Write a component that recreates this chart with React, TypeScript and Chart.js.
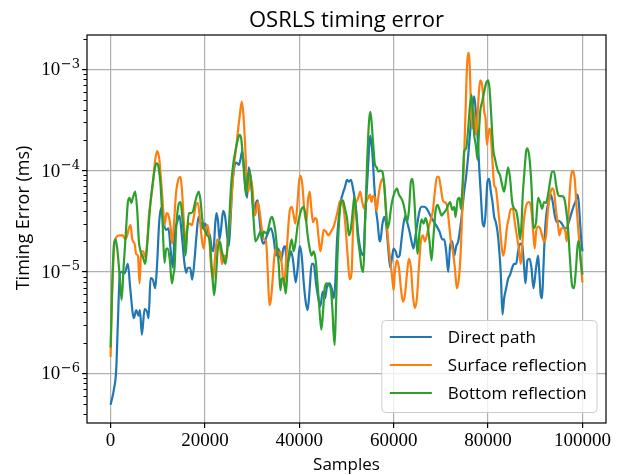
import React, { useEffect, useRef } from 'react';
import { Chart, registerables } from 'chart.js';

Chart.register(...registerables);

const TITLE = 'OSRLS timing error';
const X_LABEL = 'Samples';
const Y_LABEL = 'Timing Error (ms)';
const SERIES_LABELS = ['Direct path', 'Surface reflection', 'Bottom reflection'];
const SERIES_COLORS = ['#1f77b4', '#ff7f0e', '#2ca02c'];
const X_TICKS = [0, 20000, 40000, 60000, 80000, 100000];
const Y_TICK_EXPONENTS = [-6, -5, -4, -3];
const X_MIN = -5000;
const X_MAX = 105000;
const Y_MIN = 3.23e-7;
const Y_MAX = 2.18e-3;

const directX = [
  0, 700, 1200, 1550, 1980, 2400, 2960, 3670, 4160, 4940, 5430, 5930, 6210, 6630, 7200, 7760, 8050, 8470, 8960, 9460,
  9880, 10300, 10730, 11220, 11780, 12280, 12700, 13200, 13550, 14110, 14610, 15100, 15670, 16020, 16370, 16870, 17290,
  17780, 18210, 18630, 19050, 19550, 20040, 20600, 21030, 21450, 21800, 22160, 22440, 22790, 23080, 23430, 23850, 24280,
  24700, 25050, 25400, 25760, 26250, 26680, 27170, 27520, 27880, 28230, 28580, 28930, 29290, 29640, 29990, 30340, 30700,
  31190, 31620, 32040, 32460, 33160, 34010, 34580, 35070, 35560, 36130, 36620, 36980, 37400, 37890, 38250, 38670, 39230,
  39660, 40080, 40500, 40930, 41350, 41770, 42200, 42620, 43040, 43540, 44030, 44460, 44950, 45440, 45870, 46360, 46860,
  47280, 47630, 47980, 48410, 48830, 49250, 49680, 50100, 50520, 50950, 51370, 51650, 52000, 52500, 53060, 53630, 53910,
  54470, 55040, 55460, 55880, 56240, 56590, 56940, 57150, 57580, 58000, 58420, 58850, 59270, 59700, 59980, 60400, 60820,
  61250, 61670, 62090, 62520, 62940, 63360, 63790, 64210, 64640, 65060, 65480, 65910, 66470, 67030, 67530, 68020, 68590,
  69150, 69720, 70280, 70710, 71130, 71560, 71980, 72400, 72830, 73250, 73670, 74100, 74520, 74940, 75370, 75790, 76210,
  76640, 77060, 77410, 77770, 78120, 78470, 78830, 79180, 79530, 79880, 80240, 80590, 80940, 81300, 81650, 82000, 82350,
  82710, 83060, 83410, 83840, 84260, 84680, 85110, 85530, 85950, 86380, 86800, 87220, 87650, 87930, 88350, 88780, 89200,
  89620, 90180, 90610, 90890, 91170, 91450, 91740, 92020, 92440, 92870, 93290, 93710, 94140, 94560, 94980, 95410, 95830,
  96250, 96680, 97100, 97520, 98090, 98510, 98930, 99220, 99500, 99780, 100000,
];
const directY = [
  4.9e-7, 6.9e-7, 1.1e-6, 3.2e-6, 9.8e-6, 1.0e-5, 9.7e-6, 1.2e-5, 6.9e-6, 3.5e-6, 4.2e-6, 3.7e-6, 4.2e-6, 2.4e-6, 4.3e-6,
  4.0e-6, 3.5e-6, 8.7e-6, 8.4e-6, 6.9e-6, 1.26e-5, 3.1e-5, 4.3e-5, 3.1e-5, 2.6e-5, 2.7e-5, 1.7e-5, 1.1e-5, 2.3e-5, 3.1e-5,
  3.6e-5, 2.3e-5, 1.2e-5, 9.8e-6, 1.1e-5, 1.1e-5, 8.4e-6, 1.3e-5, 2.3e-5, 3.5e-5, 3.1e-5, 2.7e-5, 3.0e-5, 2.5e-5, 2.3e-5,
  1.7e-5, 1.6e-5, 2.9e-5, 3.8e-5, 3.1e-5, 2.1e-5, 2.7e-5, 4.0e-5, 3.5e-5, 2.3e-5, 1.8e-5, 3.1e-5, 6.7e-5, 1.1e-4, 1.2e-4,
  1.14e-4, 1.28e-4, 1.56e-4, 1.14e-4, 6.7e-5, 5.4e-5, 1.08e-4, 8.9e-5, 6.2e-5, 3.6e-5, 4.6e-5, 5.1e-5, 3.1e-5, 2.1e-5,
  1.9e-5, 2.3e-5, 2.7e-5, 2.1e-5, 1.45e-5, 1.7e-5, 1.3e-5, 1.7e-5, 1.8e-5, 1.2e-5, 1.4e-5, 1.6e-5, 1.3e-5, 7.9e-6, 1.1e-5,
  1.8e-5, 1.45e-5, 7.9e-6, 5.1e-6, 4.2e-6, 6.9e-6, 1.2e-5, 1.2e-5, 7.7e-6, 5.5e-6, 4.6e-6, 6.4e-6, 5.5e-6, 7.2e-6, 7.7e-6,
  6.9e-6, 5.5e-6, 7.9e-6, 2.0e-5, 3.6e-5, 5.1e-5, 6.0e-5, 6.9e-5, 8.1e-5, 7.8e-5, 8.1e-5, 6.7e-5, 5.6e-5, 4.2e-5, 2.3e-5,
  1.6e-5, 1.45e-5, 3.1e-5, 8.9e-5, 2.2e-4, 1.55e-4, 7.2e-5, 4.2e-5, 3.1e-5, 2.1e-5, 2.0e-5, 2.9e-5, 3.5e-5, 2.9e-5, 1.7e-5,
  1.1e-5, 1.45e-5, 1.7e-5, 1.6e-5, 1.4e-5, 1.45e-5, 2.1e-5, 3.0e-5, 3.6e-5, 3.0e-5, 2.5e-5, 2.0e-5, 1.7e-5, 2.3e-5, 3.1e-5,
  4.0e-5, 4.4e-5, 4.4e-5, 4.2e-5, 3.8e-5, 3.4e-5, 3.1e-5, 2.8e-5, 2.5e-5, 2.1e-5, 2.1e-5, 1.6e-5, 1.0e-5, 1.85e-5, 2.0e-5,
  1.45e-5, 1.8e-5, 2.0e-5, 2.7e-5, 4.0e-5, 6.2e-5, 8.9e-5, 1.4e-4, 2.4e-4, 4.1e-4, 5.4e-4, 3.8e-4, 2.25e-4, 1.08e-4, 5.8e-5,
  3.1e-5, 2.8e-5, 4.2e-5, 7.8e-5, 8.3e-5, 6.2e-5, 4.9e-5, 3.5e-5, 3.1e-5, 2.5e-5, 1.7e-5, 9.4e-6, 3.8e-6, 5.5e-6, 6.9e-6,
  8.6e-6, 9.4e-6, 1.1e-5, 1.2e-5, 1.2e-5, 1.6e-5, 1.9e-5, 1.85e-5, 1.1e-5, 7.7e-6, 1.3e-5, 1.35e-5, 1.1e-5, 6.9e-6, 1.1e-5,
  1.45e-5, 9.4e-6, 5.9e-6, 5.5e-6, 1.1e-5, 2.3e-5, 4.0e-5, 4.9e-5, 5.8e-5, 4.9e-5, 3.6e-5, 3.1e-5, 3.2e-5, 3.1e-5, 2.9e-5,
  2.7e-5, 2.7e-5, 3.1e-5, 3.6e-5, 4.4e-5, 4.9e-5, 5.8e-5, 4.9e-5, 3.1e-5, 2.0e-5, 1.6e-5,
];

const surfaceX = [
  0, 280, 700, 1200, 1900, 2610, 3100, 3530, 3880, 4240, 4590, 5080, 5430, 5790, 6140, 6490, 6920, 7340, 7760, 8120, 8470,
  8960, 9460, 9880, 10300, 10730, 11080, 11430, 11860, 12280, 12700, 13060, 13410, 13900, 14400, 14820, 15100, 15530,
  15880, 16230, 16720, 17220, 17640, 18070, 18490, 18910, 19340, 19760, 20110, 20600, 20960, 21310, 21740, 22160, 22580,
  22940, 23290, 23640, 24140, 24560, 24840, 25260, 25690, 26110, 26600, 26960, 27380, 27800, 28160, 28510, 28860, 29220,
  29640, 30130, 30480, 30840, 31190, 31620, 32040, 32460, 32950, 33310, 33660, 34010, 34360, 34720, 35140, 35560, 35990,
  36340, 36690, 37120, 37540, 37960, 38390, 38810, 39160, 39520, 39940, 40290, 40650, 41070, 41490, 41840, 42200, 42550,
  42900, 43330, 43680, 44030, 44460, 44810, 45160, 45660, 46150, 46710, 47280, 47700, 48130, 48550, 48970, 49400, 49820,
  50240, 50670, 51090, 51370, 51650, 52070, 52500, 52920, 53340, 53770, 54190, 54610, 54970, 55320, 55600, 56030, 56380,
  56730, 57150, 57580, 58000, 58420, 58850, 59270, 59620, 59980, 60260, 60680, 61110, 61530, 61950, 62380, 62800, 63220,
  63650, 64070, 64490, 64920, 65340, 65760, 66190, 66610, 67030, 67460, 67880, 68300, 68730, 69150, 69570, 70000, 70420,
  70710, 71270, 71700, 72120, 72540, 72970, 73390, 73810, 74240, 74590, 74940, 75230, 75510, 75790, 76070, 76360, 76640,
  76920, 77200, 77480, 77770, 78050, 78330, 78610, 78900, 79180, 79460, 79740, 80030, 80310, 80590, 80940, 81300, 81650,
  82000, 82420, 82850, 83200, 83550, 83980, 84400, 84820, 85250, 85670, 86090, 86520, 86940, 87220, 87500, 87930, 88350,
  88780, 89200, 89620, 89900, 90180, 90610, 91030, 91450, 91880, 92300, 92720, 93150, 93570, 93990, 94420, 94840, 95120,
  95550, 95970, 96390, 96680, 97100, 97520, 97950, 98370, 98790, 99220, 99640, 100000,
];
const surfaceY = [
  1.45e-6, 5.1e-6, 1.6e-5, 2.2e-5, 2.3e-5, 2.3e-5, 2.1e-5, 2.3e-5, 2.7e-5, 2.9e-5, 2.1e-5, 1.9e-5, 1.5e-5, 1.45e-5, 7.7e-6,
  1.6e-5, 1.6e-5, 1.4e-5, 2.0e-5, 3.6e-5, 4.9e-5, 7.4e-5, 1.28e-4, 1.56e-4, 1.33e-4, 7.8e-5, 4.6e-5, 2.9e-5, 3.8e-5, 3.6e-5,
  2.8e-5, 1.9e-5, 2.9e-5, 6.2e-5, 8.3e-5, 8.7e-5, 6.7e-5, 3.1e-5, 1.7e-5, 2.7e-5, 3.0e-5, 2.9e-5, 3.5e-5, 4.6e-5, 4.8e-5,
  3.4e-5, 2.1e-5, 1.7e-5, 2.5e-5, 2.9e-5, 2.0e-5, 1.1e-5, 8.5e-6, 1.45e-5, 2.1e-5, 2.0e-5, 1.6e-5, 1.2e-5, 1.45e-5, 1.35e-5,
  2.1e-5, 3.1e-5, 5.8e-5, 1.08e-4, 1.66e-4, 2.4e-4, 3.5e-4, 4.8e-4, 3.5e-4, 1.8e-4, 7.8e-5, 6.2e-5, 8.9e-5, 6.2e-5, 3.6e-5,
  3.9e-5, 4.9e-5, 3.9e-5, 2.7e-5, 2.1e-5, 2.0e-5, 1.0e-5, 4.7e-6, 5.5e-6, 8.6e-6, 1.45e-5, 1.7e-5, 1.45e-5, 1.6e-5, 1.1e-5,
  7.4e-6, 1.1e-5, 2.3e-5, 4.0e-5, 4.4e-5, 3.6e-5, 3.0e-5, 4.2e-5, 7.8e-5, 8.9e-5, 7.2e-5, 4.0e-5, 3.1e-5, 5.1e-5, 6.2e-5,
  4.2e-5, 3.1e-5, 3.4e-5, 3.3e-5, 2.3e-5, 1.6e-5, 2.0e-5, 2.6e-5, 2.5e-5, 2.3e-5, 2.5e-5, 2.8e-5, 3.3e-5, 4.0e-5, 4.9e-5,
  5.1e-5, 4.2e-5, 2.7e-5, 1.45e-5, 8.5e-6, 1.0e-5, 2.5e-5, 4.5e-5, 4.9e-5, 5.4e-5, 6.2e-5, 4.9e-5, 4.2e-5, 4.9e-5, 5.4e-5,
  5.8e-5, 4.9e-5, 5.6e-5, 5.4e-5, 4.0e-5, 5.4e-5, 7.2e-5, 8.3e-5, 7.2e-5, 3.6e-5, 2.0e-5, 1.3e-5, 9.4e-6, 6.6e-6, 1.0e-5,
  1.3e-5, 1.1e-5, 6.9e-6, 5.1e-6, 5.9e-6, 9.4e-6, 1.35e-5, 1.1e-5, 5.9e-6, 4.4e-6, 5.5e-6, 1.1e-5, 2.0e-5, 2.3e-5, 2.0e-5,
  2.3e-5, 2.8e-5, 3.3e-5, 4.0e-5, 6.2e-5, 8.7e-5, 8.7e-5, 6.7e-5, 5.1e-5, 4.9e-5, 4.6e-5, 3.1e-5, 2.0e-5, 1.6e-5, 1.1e-5,
  6.9e-6, 8.6e-6, 1.7e-5, 4.9e-5, 1.4e-4, 3.8e-4, 1.0e-3, 1.45e-3, 1.2e-3, 4.8e-4, 2.6e-4, 4.1e-4, 3.0e-4, 2.25e-4, 3.5e-4,
  5.8e-4, 7.8e-4, 7.5e-4, 6.0e-4, 3.8e-4, 3.3e-4, 1.8e-4, 2.25e-4, 2.6e-4, 2.25e-4, 1.22e-4, 7.2e-5, 6.7e-5, 4.9e-5, 3.1e-5,
  1.85e-5, 1.45e-5, 1.7e-5, 2.7e-5, 3.4e-5, 4.2e-5, 4.2e-5, 3.1e-5, 2.3e-5, 1.7e-5, 1.2e-5, 1.7e-5, 2.9e-5, 4.2e-5, 4.8e-5,
  4.9e-5, 4.0e-5, 2.3e-5, 1.7e-5, 2.5e-5, 2.8e-5, 2.7e-5, 2.3e-5, 2.0e-5, 2.3e-5, 4.2e-5, 5.8e-5, 6.7e-5, 6.2e-5, 4.0e-5,
  2.9e-5, 2.3e-5, 2.7e-5, 2.7e-5, 2.5e-5, 2.0e-5, 4.2e-5, 8.3e-5, 1.0e-4, 8.3e-5, 4.2e-5, 2.3e-5, 1.3e-5, 7.9e-6,
];

const bottomX = [
  0, 350, 700, 1060, 1410, 1900, 2330, 2750, 3250, 3670, 4020, 4380, 4730, 5220, 5650, 6000, 6350, 6850, 7340, 7760, 8120,
  8470, 8960, 9460, 9810, 10160, 10590, 11010, 11430, 11780, 12140, 12560, 12990, 13340, 13550, 13900, 14400, 14820, 15170,
  15530, 15880, 16230, 16580, 17080, 17500, 17920, 18350, 18700, 19050, 19410, 19760, 20110, 20470, 20960, 21310, 21670,
  21950, 22300, 22720, 23150, 23570, 23990, 24350, 24700, 25120, 25550, 25970, 26390, 26820, 27310, 27660, 28020, 28370,
  28720, 29080, 29500, 29920, 30340, 30700, 31050, 31400, 31760, 32110, 32460, 33020, 33450, 33870, 34220, 34580, 34930,
  35280, 35630, 35990, 36270, 36690, 37120, 37540, 37960, 38390, 38810, 39230, 39660, 40080, 40500, 40930, 41350, 41770,
  42200, 42620, 43040, 43470, 43890, 44310, 44670, 45020, 45370, 45800, 46220, 46640, 47000, 47280, 47490, 47770, 48060,
  48410, 48830, 49250, 49680, 50100, 50520, 50950, 51370, 51650, 52000, 52360, 52780, 53200, 53560, 53910, 54330, 54760,
  55040, 55320, 55670, 56030, 56380, 56730, 57150, 57580, 58000, 58350, 58710, 59060, 59410, 59840, 60260, 60680, 61110,
  61530, 61950, 62380, 62800, 63220, 63650, 64000, 64350, 64780, 65060, 65480, 65910, 66330, 66750, 67180, 67600, 68020,
  68450, 68870, 69290, 69720, 70140, 70560, 71130, 71560, 71980, 72400, 72830, 73110, 73530, 73960, 74240, 74590, 74940,
  75370, 75790, 76210, 76500, 76780, 77060, 77410, 77770, 78050, 78330, 78760, 79180, 79600, 80030, 80310, 80590, 80870,
  81150, 81440, 81860, 82140, 82570, 82990, 83410, 83840, 84260, 84680, 85110, 85530, 85950, 86380, 86800, 87080, 87360,
  87650, 88070, 88350, 88780, 89200, 89620, 90180, 90610, 91030, 91450, 91880, 92300, 92720, 93150, 93570, 93990, 94420,
  94840, 95260, 95690, 96110, 96530, 96960, 97380, 97800, 98230, 98650, 99070, 99360, 99640, 100000,
];
const bottomY = [
  1.8e-6, 7.4e-6, 1.85e-5, 2.1e-5, 1.7e-5, 9.4e-6, 5.3e-6, 1.1e-5, 2.5e-5, 4.9e-5, 5.4e-5, 4.8e-5, 5.4e-5, 6.2e-5, 4.0e-5,
  2.0e-5, 1.6e-5, 1.4e-5, 1.2e-5, 1.85e-5, 3.1e-5, 4.9e-5, 7.8e-5, 1.1e-4, 1.18e-4, 1.08e-4, 7.2e-5, 3.1e-5, 1.23e-5, 1.7e-5,
  1.7e-5, 1.3e-5, 7.7e-6, 9.5e-6, 1.1e-5, 2.7e-5, 4.6e-5, 4.9e-5, 3.6e-5, 2.3e-5, 1.45e-5, 2.5e-5, 3.8e-5, 3.8e-5, 4.0e-5,
  4.9e-5, 5.8e-5, 6.2e-5, 5.1e-5, 3.4e-5, 2.7e-5, 2.5e-5, 2.3e-5, 2.1e-5, 1.35e-5, 7.9e-6, 5.9e-6, 8.6e-6, 1.7e-5, 2.0e-5,
  1.6e-5, 1.35e-5, 1.2e-5, 1.6e-5, 3.1e-5, 7.2e-5, 1.14e-4, 1.5e-4, 1.9e-4, 2.25e-4, 2.1e-4, 1.4e-4, 8.3e-5, 5.8e-5, 8.9e-5,
  9.8e-5, 6.2e-5, 3.1e-5, 2.0e-5, 2.1e-5, 2.3e-5, 2.5e-5, 2.2e-5, 2.5e-5, 2.4e-5, 2.7e-5, 3.3e-5, 3.5e-5, 3.1e-5, 2.5e-5,
  1.7e-5, 1.2e-5, 6.6e-6, 8.6e-6, 8.6e-6, 6.1e-6, 1.1e-5, 1.7e-5, 2.1e-5, 1.6e-5, 2.0e-5, 2.9e-5, 3.6e-5, 4.2e-5, 4.4e-5,
  3.5e-5, 2.3e-5, 1.7e-5, 1.45e-5, 1.6e-5, 1.3e-5, 7.4e-6, 4.0e-6, 2.7e-6, 4.0e-6, 6.9e-6, 7.7e-6, 7.4e-6, 6.9e-6, 4.4e-6,
  2.4e-6, 1.9e-6, 4.4e-6, 1.3e-5, 3.1e-5, 4.9e-5, 5.1e-5, 4.2e-5, 3.4e-5, 2.3e-5, 2.7e-5, 4.2e-5, 5.5e-5, 4.2e-5, 2.3e-5,
  1.6e-5, 1.1e-5, 1.0e-5, 2.7e-5, 1.08e-4, 3.0e-4, 3.8e-4, 3.0e-4, 1.8e-4, 1.14e-4, 1.08e-4, 9.8e-5, 1.0e-4, 9.8e-5, 7.2e-5,
  4.2e-5, 2.7e-5, 3.1e-5, 4.2e-5, 5.4e-5, 6.2e-5, 6.7e-5, 5.8e-5, 5.4e-5, 4.9e-5, 4.0e-5, 3.1e-5, 4.0e-5, 7.8e-5, 8.3e-5,
  5.4e-5, 2.3e-5, 1.5e-5, 2.5e-5, 3.3e-5, 3.0e-5, 3.4e-5, 2.9e-5, 2.0e-5, 1.3e-5, 2.3e-5, 4.0e-5, 4.6e-5, 4.1e-5, 3.6e-5,
  3.8e-5, 4.1e-5, 4.6e-5, 4.9e-5, 4.1e-5, 4.4e-5, 3.5e-5, 5.1e-5, 5.4e-5, 4.2e-5, 7.2e-5, 1.55e-4, 1.66e-4, 2.6e-4, 4.6e-4,
  5.6e-4, 3.8e-4, 2.25e-4, 1.8e-4, 1.28e-4, 2.25e-4, 3.8e-4, 4.8e-4, 6.0e-4, 7.3e-4, 7.8e-4, 6.5e-4, 4.1e-4, 2.4e-4, 1.55e-4,
  1.33e-4, 1.08e-4, 9.8e-5, 8.9e-5, 7.2e-5, 6.2e-5, 8.3e-5, 1.08e-4, 8.3e-5, 4.9e-5, 4.2e-5, 4.0e-5, 3.1e-5, 2.1e-5, 2.9e-5,
  5.8e-5, 8.9e-5, 1.55e-4, 1.66e-4, 1.33e-4, 7.2e-5, 2.7e-5, 3.1e-5, 5.4e-5, 4.9e-5, 4.2e-5, 4.9e-5, 4.8e-5, 5.8e-5, 7.8e-5,
  9.8e-5, 9.8e-5, 7.2e-5, 5.8e-5, 5.6e-5, 5.6e-5, 5.4e-5, 4.2e-5, 2.7e-5, 1.3e-5, 7.4e-6, 6.9e-6, 1.1e-5, 2.0e-5, 1.85e-5,
  1.3e-5, 9.4e-6,
];

const SERIES_X = [directX, surfaceX, bottomX];
const SERIES_Y = [directY, surfaceY, bottomY];

const SANS = '"Open Sans", "DejaVu Sans", sans-serif';
const SERIF = '"Liberation Serif", "DejaVu Serif", serif';

const decorPlugin = {
  id: 'decor',
  afterDatasetsDraw(chart: any) {
    const { ctx, chartArea: ca, scales } = chart;
    const ys = scales.y;
    ctx.save();

    // frame (all four spines)
    ctx.strokeStyle = '#000';
    ctx.lineWidth = 1.2;
    ctx.strokeRect(ca.left, ca.top, ca.right - ca.left, ca.bottom - ca.top);

    // minor ticks on log axis
    ctx.lineWidth = 1;
    for (let e = -7; e <= -2; e++) {
      for (let k = 2; k <= 9; k++) {
        const v = k * Math.pow(10, e);
        if (v < ys.min || v > ys.max) continue;
        const y = Math.round(ys.getPixelForValue(v)) + 0.5;
        ctx.beginPath();
        ctx.moveTo(ca.left - 3.5, y);
        ctx.lineTo(ca.left, y);
        ctx.stroke();
      }
    }

    // y tick labels 10^e
    ctx.fillStyle = '#000';
    ctx.textAlign = 'left';
    ctx.textBaseline = 'alphabetic';
    for (const e of Y_TICK_EXPONENTS) {
      const y = ys.getPixelForValue(Math.pow(10, e));
      const expStr = '\u2212' + Math.abs(e);
      ctx.font = `13px "DejaVu Serif", serif`;
      const wExp = ctx.measureText(expStr).width;
      ctx.font = `19px ${SERIF}`;
      const wBase = ctx.measureText('10').width;
      const right = ca.left - 7;
      const expX = right - wExp;
      const baseX = expX - wBase - 0.5;
      ctx.fillText('10', baseX, y + 6);
      ctx.font = `13px "DejaVu Serif", serif`;
      ctx.fillText(expStr, expX, y - 1.5);
    }

    // title
    ctx.textAlign = 'center';
    ctx.font = `22px ${SANS}`;
    ctx.fillText(TITLE, (ca.left + ca.right) / 2, 27);

    // x label
    ctx.font = `17px ${SANS}`;
    ctx.fillText(X_LABEL, (ca.left + ca.right) / 2, 470);

    // y label
    ctx.save();
    ctx.translate(29, 218);
    ctx.rotate(-Math.PI / 2);
    ctx.font = `18px ${SANS}`;
    ctx.fillText(Y_LABEL, 0, 0);
    ctx.restore();

    // legend
    ctx.font = `17px ${SANS}`;
    let maxW = 0;
    for (const l of SERIES_LABELS) maxW = Math.max(maxW, ctx.measureText(l).width);
    const lw = 66 + maxW + 10;
    const lh = 92;
    const lx = ca.right - 9 - lw;
    const ly = ca.bottom - 10.5 - lh;
    const r = 4;
    ctx.beginPath();
    ctx.moveTo(lx + r, ly);
    ctx.lineTo(lx + lw - r, ly);
    ctx.arcTo(lx + lw, ly, lx + lw, ly + r, r);
    ctx.lineTo(lx + lw, ly + lh - r);
    ctx.arcTo(lx + lw, ly + lh, lx + lw - r, ly + lh, r);
    ctx.lineTo(lx + r, ly + lh);
    ctx.arcTo(lx, ly + lh, lx, ly + lh - r, r);
    ctx.lineTo(lx, ly + r);
    ctx.arcTo(lx, ly, lx + r, ly, r);
    ctx.closePath();
    ctx.fillStyle = 'rgba(255,255,255,0.8)';
    ctx.fill();
    ctx.strokeStyle = '#cccccc';
    ctx.lineWidth = 1;
    ctx.stroke();
    ctx.textAlign = 'left';
    SERIES_LABELS.forEach((label, i) => {
      const hy = ly + 16.5 + i * 28;
      ctx.strokeStyle = SERIES_COLORS[i];
      ctx.lineWidth = 2.2;
      ctx.beginPath();
      ctx.moveTo(lx + 8, hy);
      ctx.lineTo(lx + 50, hy);
      ctx.stroke();
      ctx.fillStyle = '#000';
      ctx.fillText(label, lx + 66, hy + 6.2);
    });

    ctx.restore();
  },
};

export default function App() {
  const ref = useRef<HTMLCanvasElement | null>(null);
  useEffect(() => {
    if (!ref.current) return;
    const datasets = SERIES_LABELS.map((label, i) => ({
      label,
      data: SERIES_X[i].map((x, j) => ({ x, y: SERIES_Y[i][j] })),
      borderColor: SERIES_COLORS[i],
      backgroundColor: SERIES_COLORS[i],
      borderWidth: 2.2,
      pointRadius: 0,
      cubicInterpolationMode: 'monotone' as const,
      fill: false,
      order: 3 - i,
    }));
    const chart = new Chart(ref.current, {
      type: 'line',
      data: { datasets },
      options: {
        animation: false,
        responsive: false,
        devicePixelRatio: 1,
        layout: { padding: { top: 35, right: 16, bottom: 0, left: 0 } },
        plugins: { legend: { display: false }, title: { display: false }, tooltip: { enabled: false } },
        scales: {
          x: {
            type: 'linear',
            min: X_MIN,
            max: X_MAX,
            afterBuildTicks: (scale: any) => {
              scale.ticks = X_TICKS.map((v) => ({ value: v }));
            },
            afterFit: (scale: any) => {
              scale.height = 52;
            },
            grid: { color: '#b0b0b0', lineWidth: 1.2, tickColor: '#000', tickLength: 5, tickWidth: 1.2 },
            border: { display: false },
            ticks: {
              autoSkip: false,
              maxRotation: 0,
              padding: 2,
              color: '#000',
              font: { family: SERIF, size: 19 },
              callback: (v: any) => String(v),
            },
          },
          y: {
            type: 'logarithmic',
            min: Y_MIN,
            max: Y_MAX,
            afterBuildTicks: (scale: any) => {
              scale.ticks = Y_TICK_EXPONENTS.map((e) => ({ value: Math.pow(10, e) }));
            },
            afterFit: (scale: any) => {
              scale.width = 87;
            },
            grid: { color: '#b0b0b0', lineWidth: 1.2, tickColor: '#000', tickLength: 5, tickWidth: 1.2 },
            border: { display: false },
            ticks: { display: false },
          },
        },
      },
      plugins: [decorPlugin],
    });
    return () => chart.destroy();
  }, []);
  return (
    <div style={{ position: 'absolute', left: 0, top: 0, width: 622, height: 475, background: '#fff' }}>
      <canvas ref={ref} width={622} height={475} style={{ display: 'block', width: 622, height: 475 }} />
    </div>
  );
}
